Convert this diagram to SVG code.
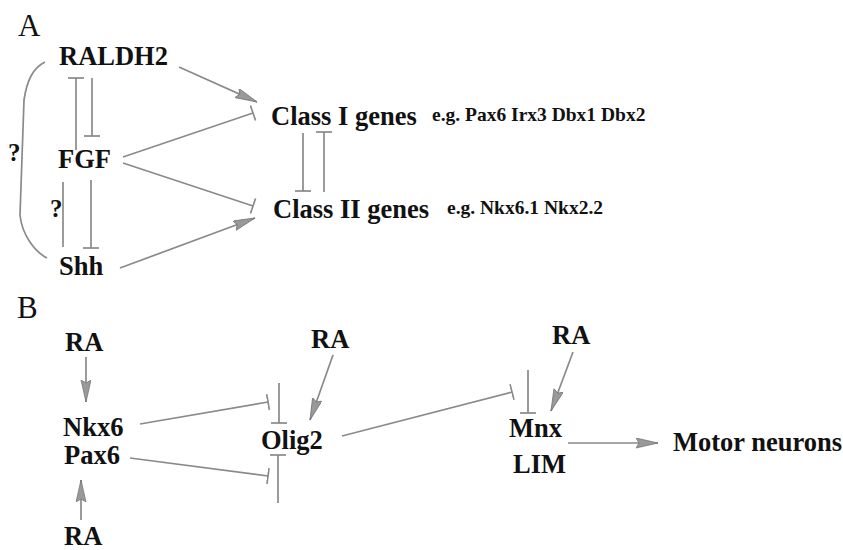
<svg xmlns="http://www.w3.org/2000/svg" width="843" height="550" viewBox="0 0 843 550">
<style>
.lbl{font-family:"Liberation Serif","Times New Roman",serif;font-weight:bold;font-size:26.5px;fill:#111}
.big{font-family:"Liberation Serif","Times New Roman",serif;font-size:31px;fill:#111}
.eg{font-family:"Liberation Serif","Times New Roman",serif;font-weight:bold;font-size:19.5px;fill:#111}
.q{font-family:"Liberation Serif","Times New Roman",serif;font-weight:bold;font-size:25px;fill:#111}
.c{stroke:#8a8a8a;stroke-width:1.7;fill:none}
.act{marker-end:url(#arr)}
.inh{marker-end:url(#tee)}
</style>
<defs>
<marker id="arr" markerUnits="userSpaceOnUse" markerWidth="24" markerHeight="12" refX="22" refY="5" orient="auto">
<path d="M0,0 L22,5 L0,10 L3,5 z" fill="#999" stroke="#777" stroke-width="0.8"/>
</marker>
<marker id="tee" markerUnits="userSpaceOnUse" markerWidth="4" markerHeight="20" refX="1" refY="10" orient="auto">
<path d="M1,2 L1,18" stroke="#8a8a8a" stroke-width="1.7"/>
</marker>
</defs>
<text class="big" x="18" y="36">A</text>
<text class="big" x="17" y="318">B</text>
<g id="RALDH2"><text class="lbl" x="59" y="65">RALDH2</text></g>
<g id="FGF"><text class="lbl" x="58" y="168">FGF</text></g>
<g id="Shh"><text class="lbl" x="59" y="275">Shh</text></g>
<g id="ClassI"><text class="lbl" x="271" y="125">Class I genes</text><text class="eg" x="432" y="121">e.g. Pax6 Irx3 Dbx1 Dbx2</text></g>
<g id="ClassII"><text class="lbl" x="273" y="218">Class II genes</text><text class="eg" x="447" y="214">e.g. Nkx6.1 Nkx2.2</text></g>
<g id="RA1"><text class="lbl" x="65" y="351">RA</text></g>
<g id="Nkx6Pax6"><text class="lbl" x="63" y="436">Nkx6</text><text class="lbl" x="64" y="464">Pax6</text></g>
<g id="RA2"><text class="lbl" x="64" y="545">RA</text></g>
<g id="Olig2"><text class="lbl" x="261" y="449">Olig2</text></g>
<g id="RA3"><text class="lbl" x="311" y="348">RA</text></g>
<g id="RA4"><text class="lbl" x="552" y="344">RA</text></g>
<g id="MnxLIM"><text class="lbl" x="509" y="437">Mnx</text><text class="lbl" x="513" y="473">LIM</text></g>
<g id="Motor"><text class="lbl" x="673" y="451">Motor neurons</text></g>
<g id="connectors">
<path class="c" d="M45,62 C33,68 27,80 24,100 L20,215 C22,235 35,252 47,258"/>
<text class="q" x="8" y="161">?</text>
<text class="q" x="50" y="217">?</text>
<line class="c inh" x1="76" y1="150" x2="76" y2="78"/>
<line class="c inh" x1="92" y1="78" x2="92" y2="136"/>
<line class="c inh" x1="91" y1="180" x2="91" y2="248"/>
<line class="c" x1="63" y1="182" x2="63" y2="247"/>
<line class="c act" x1="179" y1="67" x2="257" y2="102"/>
<line class="c inh" x1="123" y1="157" x2="253" y2="113"/>
<line class="c inh" x1="123" y1="163" x2="253" y2="206"/>
<line class="c act" x1="120" y1="268" x2="255" y2="218"/>
<line class="c inh" x1="303" y1="133" x2="303" y2="191"/>
<line class="c inh" x1="324" y1="192" x2="324" y2="132"/>
<line class="c act" x1="86" y1="357" x2="86" y2="402"/>
<line class="c act" x1="81" y1="520" x2="81" y2="480"/>
<line class="c inh" x1="140" y1="424" x2="268" y2="402"/>
<line class="c inh" x1="279" y1="383" x2="279" y2="423"/>
<line class="c inh" x1="278" y1="503" x2="278" y2="455"/>
<line class="c inh" x1="130" y1="458" x2="268" y2="476"/>
<line class="c act" x1="333" y1="355" x2="310" y2="420"/>
<line class="c inh" x1="342" y1="436" x2="512" y2="392"/>
<line class="c inh" x1="528" y1="370" x2="528" y2="413"/>
<line class="c act" x1="573" y1="352" x2="551" y2="411"/>
<line class="c act" x1="568" y1="443" x2="658" y2="443"/>
</g>
</svg>
